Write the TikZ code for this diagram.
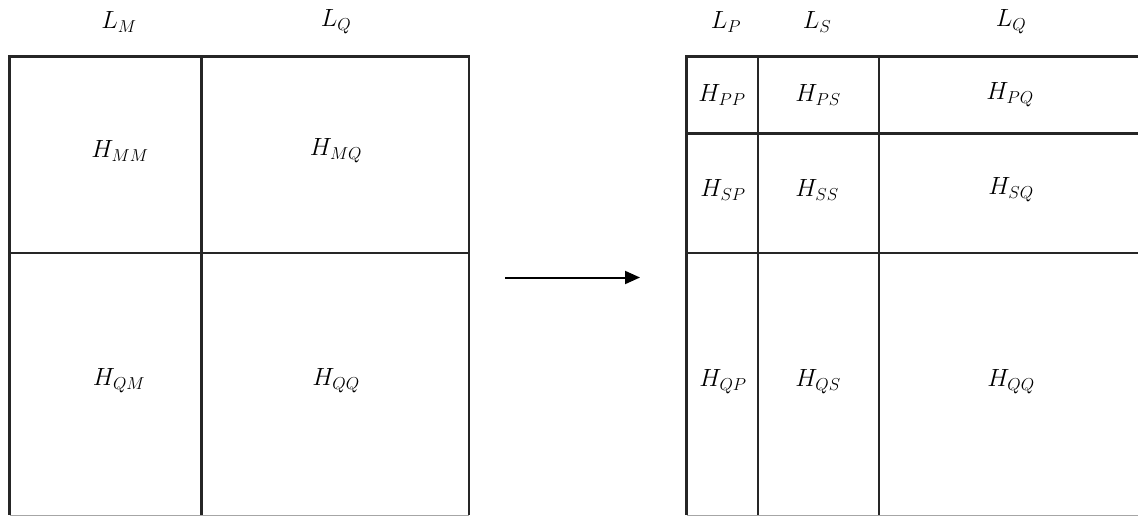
\documentclass[tikz,border=0pt]{standalone}
\usetikzlibrary{arrows.meta}
\begin{document}
\begin{tikzpicture}[x=1pt,y=-1pt,
  gridline/.style={line width=2.4pt,draw=black!85},
  edgeline/.style={line width=1.2pt,draw=black!35},
  lbl/.style={inner sep=0pt,font=\fontsize{26}{30}\selectfont},
  conn/.style={line width=2pt,-{Triangle[length=15pt,width=13pt]}}]
\useasboundingbox (0,0) rectangle (1138,516);
% left matrix
\draw[gridline] (9.5,515) -- (9.5,56.5) -- (469,56.5) -- (469,515);
\draw[gridline] (201.5,56.5) -- (201.5,515);
\draw[gridline] (9.5,253) -- (469,253);
\draw[edgeline] (9.5,515.5) -- (469,515.5);
% right matrix
\draw[gridline] (686.5,515) -- (686.5,56.5) -- (1138,56.5);
\draw[gridline] (758,56.5) -- (758,515);
\draw[gridline] (879,56.5) -- (879,515);
\draw[gridline] (686.5,133.5) -- (1138,133.5);
\draw[gridline] (686.5,253) -- (1138,253);
\draw[edgeline] (686.5,515.5) -- (1138,515.5);
% labels left
\node[lbl] (lm) at (119,22) {$L_M$};
\node[lbl] (lq1) at (336,22) {$L_Q$};
\node[lbl] (hmm) at (120,151) {$H_{MM}$};
\node[lbl] (hmq) at (336,151) {$H_{MQ}$};
\node[lbl] (hqm) at (119,381) {$H_{QM}$};
\node[lbl] (hqq1) at (336,381) {$H_{QQ}$};
% labels right
\node[lbl] (lp) at (726,22) {$L_P$};
\node[lbl] (ls) at (817,22) {$L_S$};
\node[lbl] (lq2) at (1011,22) {$L_Q$};
\node[lbl] (hpp) at (722,95) {$H_{PP}$};
\node[lbl] (hps) at (818,95) {$H_{PS}$};
\node[lbl] (hpq) at (1010,95) {$H_{PQ}$};
\node[lbl] (hsp) at (723,190) {$H_{SP}$};
\node[lbl] (hss) at (817,190) {$H_{SS}$};
\node[lbl] (hsq) at (1011,190) {$H_{SQ}$};
\node[lbl] (hqp) at (723,382) {$H_{QP}$};
\node[lbl] (hqs) at (818,382) {$H_{QS}$};
\node[lbl] (hqq2) at (1011,382) {$H_{QQ}$};
% arrow
\coordinate (a1) at (505,277.5);
\coordinate (a2) at (640,277.5);
\draw[conn] (a1) -- (a2);
\end{tikzpicture}
\end{document}
